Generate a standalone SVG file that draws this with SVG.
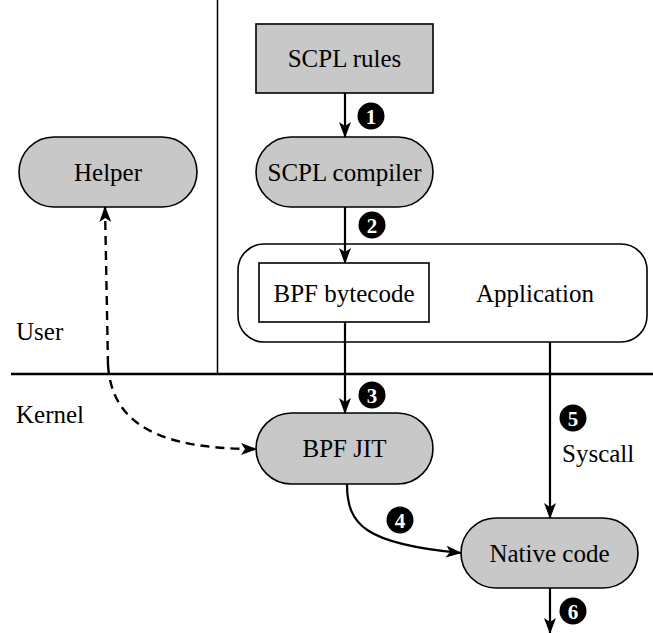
<svg xmlns="http://www.w3.org/2000/svg" width="653" height="633" viewBox="0 0 653 633" font-family="Liberation Serif, DejaVu Serif, serif">
<style>
.node{fill:#c8c8c8;stroke:#000;stroke-width:1.6}
.box{fill:#fff;stroke:#000;stroke-width:1.6}
.lbl{font-size:25px;fill:#000}
.edge{fill:none;stroke:#000;stroke-width:2.2}
.dash{fill:none;stroke:#000;stroke-width:2.4;stroke-dasharray:9,6}
.num circle{fill:#000}
.num text{font-size:21px;font-weight:bold;fill:#fff;text-anchor:middle}
.sep{stroke:#000;fill:none}
</style>
<defs>
<marker id="ah" viewBox="0 0 16 12" markerWidth="16" markerHeight="12" refX="15" refY="6" orient="auto" markerUnits="userSpaceOnUse">
<path d="M0,0 L16,6 L0,12 L4,6 z" fill="#000"/>
</marker>
</defs>
<g id="separators">
<line class="sep" x1="217.5" y1="0" x2="217.5" y2="374" stroke-width="1.5"/>
<line class="sep" x1="11" y1="374" x2="653" y2="374" stroke-width="2.6"/>
</g>
<g id="user-label"><text class="lbl" x="16" y="340">User</text></g>
<g id="kernel-label"><text class="lbl" x="16" y="423">Kernel</text></g>
<g id="scpl-rules">
<rect class="node" x="256" y="24" width="177" height="69"/>
<text class="lbl" x="344.5" y="67" text-anchor="middle">SCPL rules</text>
</g>
<g id="scpl-compiler">
<rect class="node" x="256" y="137" width="177" height="70" rx="35"/>
<text class="lbl" x="344.5" y="181" text-anchor="middle">SCPL compiler</text>
</g>
<g id="helper">
<rect class="node" x="19" y="137" width="178" height="70" rx="35"/>
<text class="lbl" x="108" y="181" text-anchor="middle">Helper</text>
</g>
<g id="application">
<rect class="box" x="238" y="244" width="409" height="98" rx="26"/>
<text class="lbl" x="535" y="302" text-anchor="middle">Application</text>
</g>
<g id="bpf-bytecode">
<rect class="box" x="259" y="263" width="170" height="59"/>
<text class="lbl" x="344" y="302" text-anchor="middle">BPF bytecode</text>
</g>
<g id="bpf-jit">
<rect class="node" x="256" y="413" width="177" height="71" rx="35.5"/>
<text class="lbl" x="344.5" y="457" text-anchor="middle">BPF JIT</text>
</g>
<g id="native-code">
<rect class="node" x="461" y="518" width="177" height="70" rx="35"/>
<text class="lbl" x="549.5" y="562" text-anchor="middle">Native code</text>
</g>
<g id="connectors">
<line class="edge" x1="345" y1="93" x2="345" y2="137" marker-end="url(#ah)"/>
<line class="edge" x1="345" y1="207" x2="345" y2="263" marker-end="url(#ah)"/>
<line class="edge" x1="345" y1="322" x2="345" y2="413" marker-end="url(#ah)"/>
<path class="edge" d="M347,484 C347,525 365,544 461,553" marker-end="url(#ah)"/>
<line class="edge" x1="550" y1="342" x2="550" y2="518" marker-end="url(#ah)"/>
<line class="edge" x1="550" y1="588" x2="550" y2="633" marker-end="url(#ah)"/>
<path class="dash" d="M108,365 C112,425 160,449 256,449" marker-end="url(#ah)"/>
<path class="dash" d="M108,365 L105,207" marker-end="url(#ah)"/>
<text class="lbl" x="562" y="462">Syscall</text>
</g>
<g id="step-numbers" class="num">
<circle cx="371" cy="116" r="13.5"/><text x="371" y="123.5">1</text>
<circle cx="372" cy="225" r="13.5"/><text x="372" y="232.5">2</text>
<circle cx="372" cy="395" r="13.5"/><text x="372" y="402.5">3</text>
<circle cx="400" cy="520" r="13.5"/><text x="400" y="527.5">4</text>
<circle cx="573" cy="418" r="13.5"/><text x="573" y="425.5">5</text>
<circle cx="573" cy="611" r="13.5"/><text x="573" y="618.5">6</text>
</g>
</svg>
